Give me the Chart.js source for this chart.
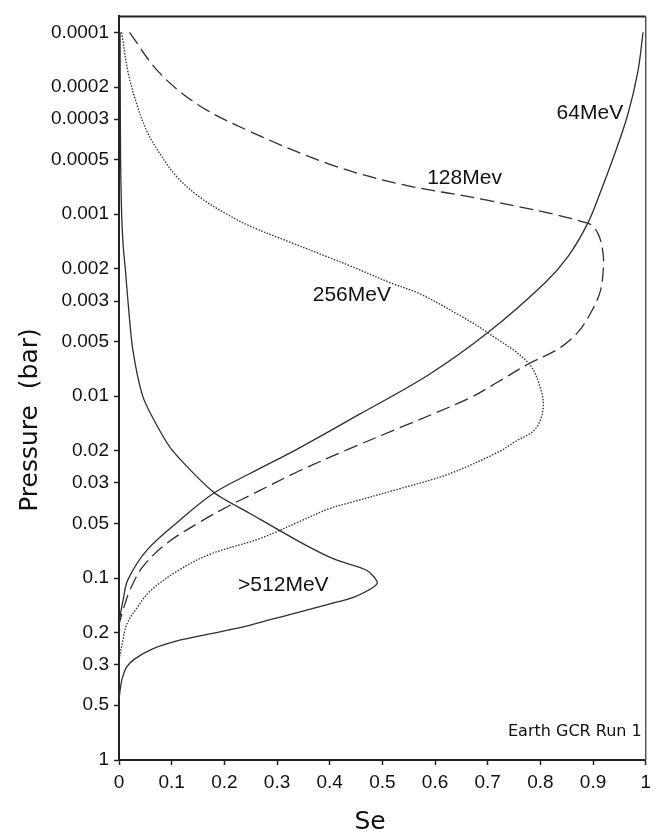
<!DOCTYPE html>
<html>
<head>
<meta charset="utf-8">
<script src="https://cdn.jsdelivr.net/npm/chart.js@4/dist/chart.umd.min.js"></script>
<style>
  html, body { margin: 0; padding: 0; background: #fff; }
  canvas { display: block; }
</style>
</head>
<body>
<canvas id="c" width="657" height="837"></canvas>
<script>
// ---- data (Se vs pressure in bar) ----
const se64  = [0.995, 0.985, 0.966, 0.941, 0.915, 0.890, 0.853, 0.809, 0.701, 0.588, 0.456, 0.342, 0.248, 0.181, 0.115, 0.053, 0.017, 0.008, 0.0];
const p64   = [0.0001, 0.000165, 0.000283, 0.000467, 0.000743, 0.00112, 0.0017, 0.00238, 0.00446, 0.00763, 0.0126, 0.0193, 0.0267, 0.034, 0.0482, 0.0702, 0.102, 0.131, 0.175];

const se128 = [0.02, 0.075, 0.15, 0.248, 0.399, 0.531, 0.701, 0.890, 0.909, 0.919, 0.919, 0.913, 0.896, 0.871, 0.834, 0.777, 0.72, 0.664, 0.531, 0.437, 0.342, 0.248, 0.21, 0.159, 0.091, 0.045, 0.021, 0.008, 0.0];
const p128  = [0.0001, 0.000165, 0.00025, 0.00035, 0.00053, 0.00068, 0.00084, 0.00112, 0.00127, 0.00164, 0.0021, 0.0027, 0.00347, 0.00446, 0.0055, 0.00666, 0.00834, 0.0103, 0.015, 0.0195, 0.0258, 0.0352, 0.0399, 0.0482, 0.0643, 0.0868, 0.116, 0.149, 0.18];

const se256 = [0.005, 0.017, 0.034, 0.053, 0.078, 0.11, 0.153, 0.204, 0.248, 0.318, 0.399, 0.442, 0.518, 0.569, 0.650, 0.701, 0.777, 0.801, 0.805, 0.79, 0.752, 0.72, 0.626, 0.531, 0.437, 0.399, 0.342, 0.267, 0.172, 0.110, 0.059, 0.034, 0.015, 0.006, 0.0];
const p256  = [0.0001, 0.000165, 0.00025, 0.00035, 0.000467, 0.000624, 0.000805, 0.000997, 0.00116, 0.0014, 0.00173, 0.00194, 0.0024, 0.00272, 0.00364, 0.0045, 0.00656, 0.00922, 0.01185, 0.0152, 0.0178, 0.0203, 0.0268, 0.0324, 0.0386, 0.0415, 0.049, 0.0607, 0.0741, 0.0918, 0.118, 0.146, 0.179, 0.23, 0.284];

const se512 = [0.002, 0.003, 0.005, 0.008, 0.012, 0.017, 0.026, 0.045, 0.072, 0.102, 0.181, 0.248, 0.342, 0.41, 0.471, 0.49, 0.446, 0.399, 0.342, 0.285, 0.234, 0.172, 0.110, 0.064, 0.030, 0.015, 0.006, 0.002, 0.0];
const p512  = [0.0001, 0.0005, 0.001, 0.0015, 0.002, 0.003, 0.0055, 0.01, 0.0145, 0.02, 0.034, 0.044, 0.063, 0.079, 0.0908, 0.107, 0.1273, 0.139, 0.1538, 0.170, 0.186, 0.2028, 0.2215, 0.2449, 0.278, 0.307, 0.357, 0.415, 0.471];

const seriesNames = ['64MeV', '128Mev', '256MeV', '>512MeV'];
const yTickValues = [0.0001, 0.0002, 0.0003, 0.0005, 0.001, 0.002, 0.003, 0.005, 0.01, 0.02, 0.03, 0.05, 0.1, 0.2, 0.3, 0.5, 1];
const yTickLabels = ['0.0001', '0.0002', '0.0003', '0.0005', '0.001', '0.002', '0.003', '0.005', '0.01', '0.02', '0.03', '0.05', '0.1', '0.2', '0.3', '0.5', '1'];
const xTickLabels = ['0', '0.1', '0.2', '0.3', '0.4', '0.5', '0.6', '0.7', '0.8', '0.9', '1'];

function pts(se, p) { return se.map((v, i) => ({ x: v, y: p[i] })); }

const LINE = '#2e2e2e';
const TXT = '#111';

const labelPlugin = {
  id: 'labels',
  afterDraw(chart) {
    const { ctx, chartArea: a, scales } = chart;
    const xs = scales.x, ys = scales.y;
    ctx.save();
    // frame top and right
    ctx.strokeStyle = '#222';
    ctx.lineWidth = 2;
    ctx.beginPath();
    ctx.moveTo(a.left, a.top); ctx.lineTo(a.right, a.top);
    ctx.stroke();
    ctx.strokeStyle = '#555';
    ctx.lineWidth = 1.5;
    ctx.beginPath();
    ctx.moveTo(a.right, a.top); ctx.lineTo(a.right, a.bottom);
    ctx.stroke();

    // curve labels
    ctx.fillStyle = TXT;
    ctx.font = '21px "Liberation Sans", Arial, sans-serif';
    ctx.textAlign = 'center';
    ctx.textBaseline = 'middle';
    const lab = [
      [seriesNames[0], 0.894, 0.00028],
      [seriesNames[1], 0.656, 0.000634],
      [seriesNames[2], 0.442, 0.00279],
      [seriesNames[3], 0.312, 0.1096]
    ];
    lab.forEach(([t, x, y]) => ctx.fillText(t, xs.getPixelForValue(x), ys.getPixelForValue(y)));

    // run label
    ctx.font = '16px "DejaVu Sans", sans-serif';
    ctx.textAlign = 'right';
    ctx.textBaseline = 'alphabetic';
    ctx.fillText('Earth GCR Run 1', a.right - 4, a.bottom - 24);

    // axis titles
    ctx.font = '25px "DejaVu Sans", sans-serif';
    ctx.textAlign = 'center';
    ctx.textBaseline = 'middle';
    ctx.fillText('Se', 370, 822);
    ctx.translate(30, 420);
    ctx.rotate(-Math.PI / 2);
    ctx.fillText('Pressure  (bar)', 0, 0);
    ctx.restore();
  }
};

const common = { showLine: true, pointRadius: 0, borderColor: LINE, borderWidth: 1.3, fill: false };

new Chart(document.getElementById('c'), {
  type: 'scatter',
  data: {
    datasets: [
      Object.assign({ label: seriesNames[0], data: pts(se64, p64), tension: 0.35 }, common),
      Object.assign({ label: seriesNames[1], data: pts(se128, p128), tension: 0.35, borderDash: [14, 6] }, common),
      Object.assign({ label: seriesNames[2], data: pts(se256, p256), tension: 0.35, borderDash: [1.5, 1.5], borderWidth: 1.2 }, common),
      Object.assign({ label: seriesNames[3], data: pts(se512, p512), tension: 0.25 }, common)
    ]
  },
  options: {
    responsive: false,
    animation: false,
    layout: { padding: { top: 11, right: 9, left: 0, bottom: 0 } },
    plugins: { legend: { display: false }, tooltip: { enabled: false } },
    scales: {
      x: {
        type: 'linear', min: 0, max: 1,
        afterFit(s) { s.height = 77; },
        afterBuildTicks(s) { s.ticks = xTickLabels.map((_, i) => ({ value: i / 10 })); },
        ticks: {
          autoSkip: false, maxRotation: 0, padding: 6, color: TXT,
          font: { family: '"Liberation Sans", Arial, sans-serif', size: 19 },
          callback: (v) => xTickLabels[Math.round(v * 10)]
        },
        grid: { drawOnChartArea: false, tickLength: 5, color: '#222', tickWidth: 1.5 },
        border: { color: '#222', width: 2 }
      },
      y: {
        type: 'logarithmic', reverse: true, min: 8.18e-5, max: 1,
        afterFit(s) { s.width = 119; },
        afterBuildTicks(s) { s.ticks = yTickValues.map(v => ({ value: v })); },
        ticks: {
          autoSkip: false, padding: 5, color: TXT,
          font: { family: '"Liberation Sans", Arial, sans-serif', size: 19 },
          callback: (v) => {
            const i = yTickValues.findIndex(t => Math.abs(t - v) / t < 1e-6);
            return i >= 0 ? yTickLabels[i] : '';
          }
        },
        grid: { drawOnChartArea: false, tickLength: 5, color: '#222', tickWidth: 1.5 },
        border: { color: '#222', width: 2 }
      }
    }
  },
  plugins: [labelPlugin]
});
</script>
</body>
</html>
